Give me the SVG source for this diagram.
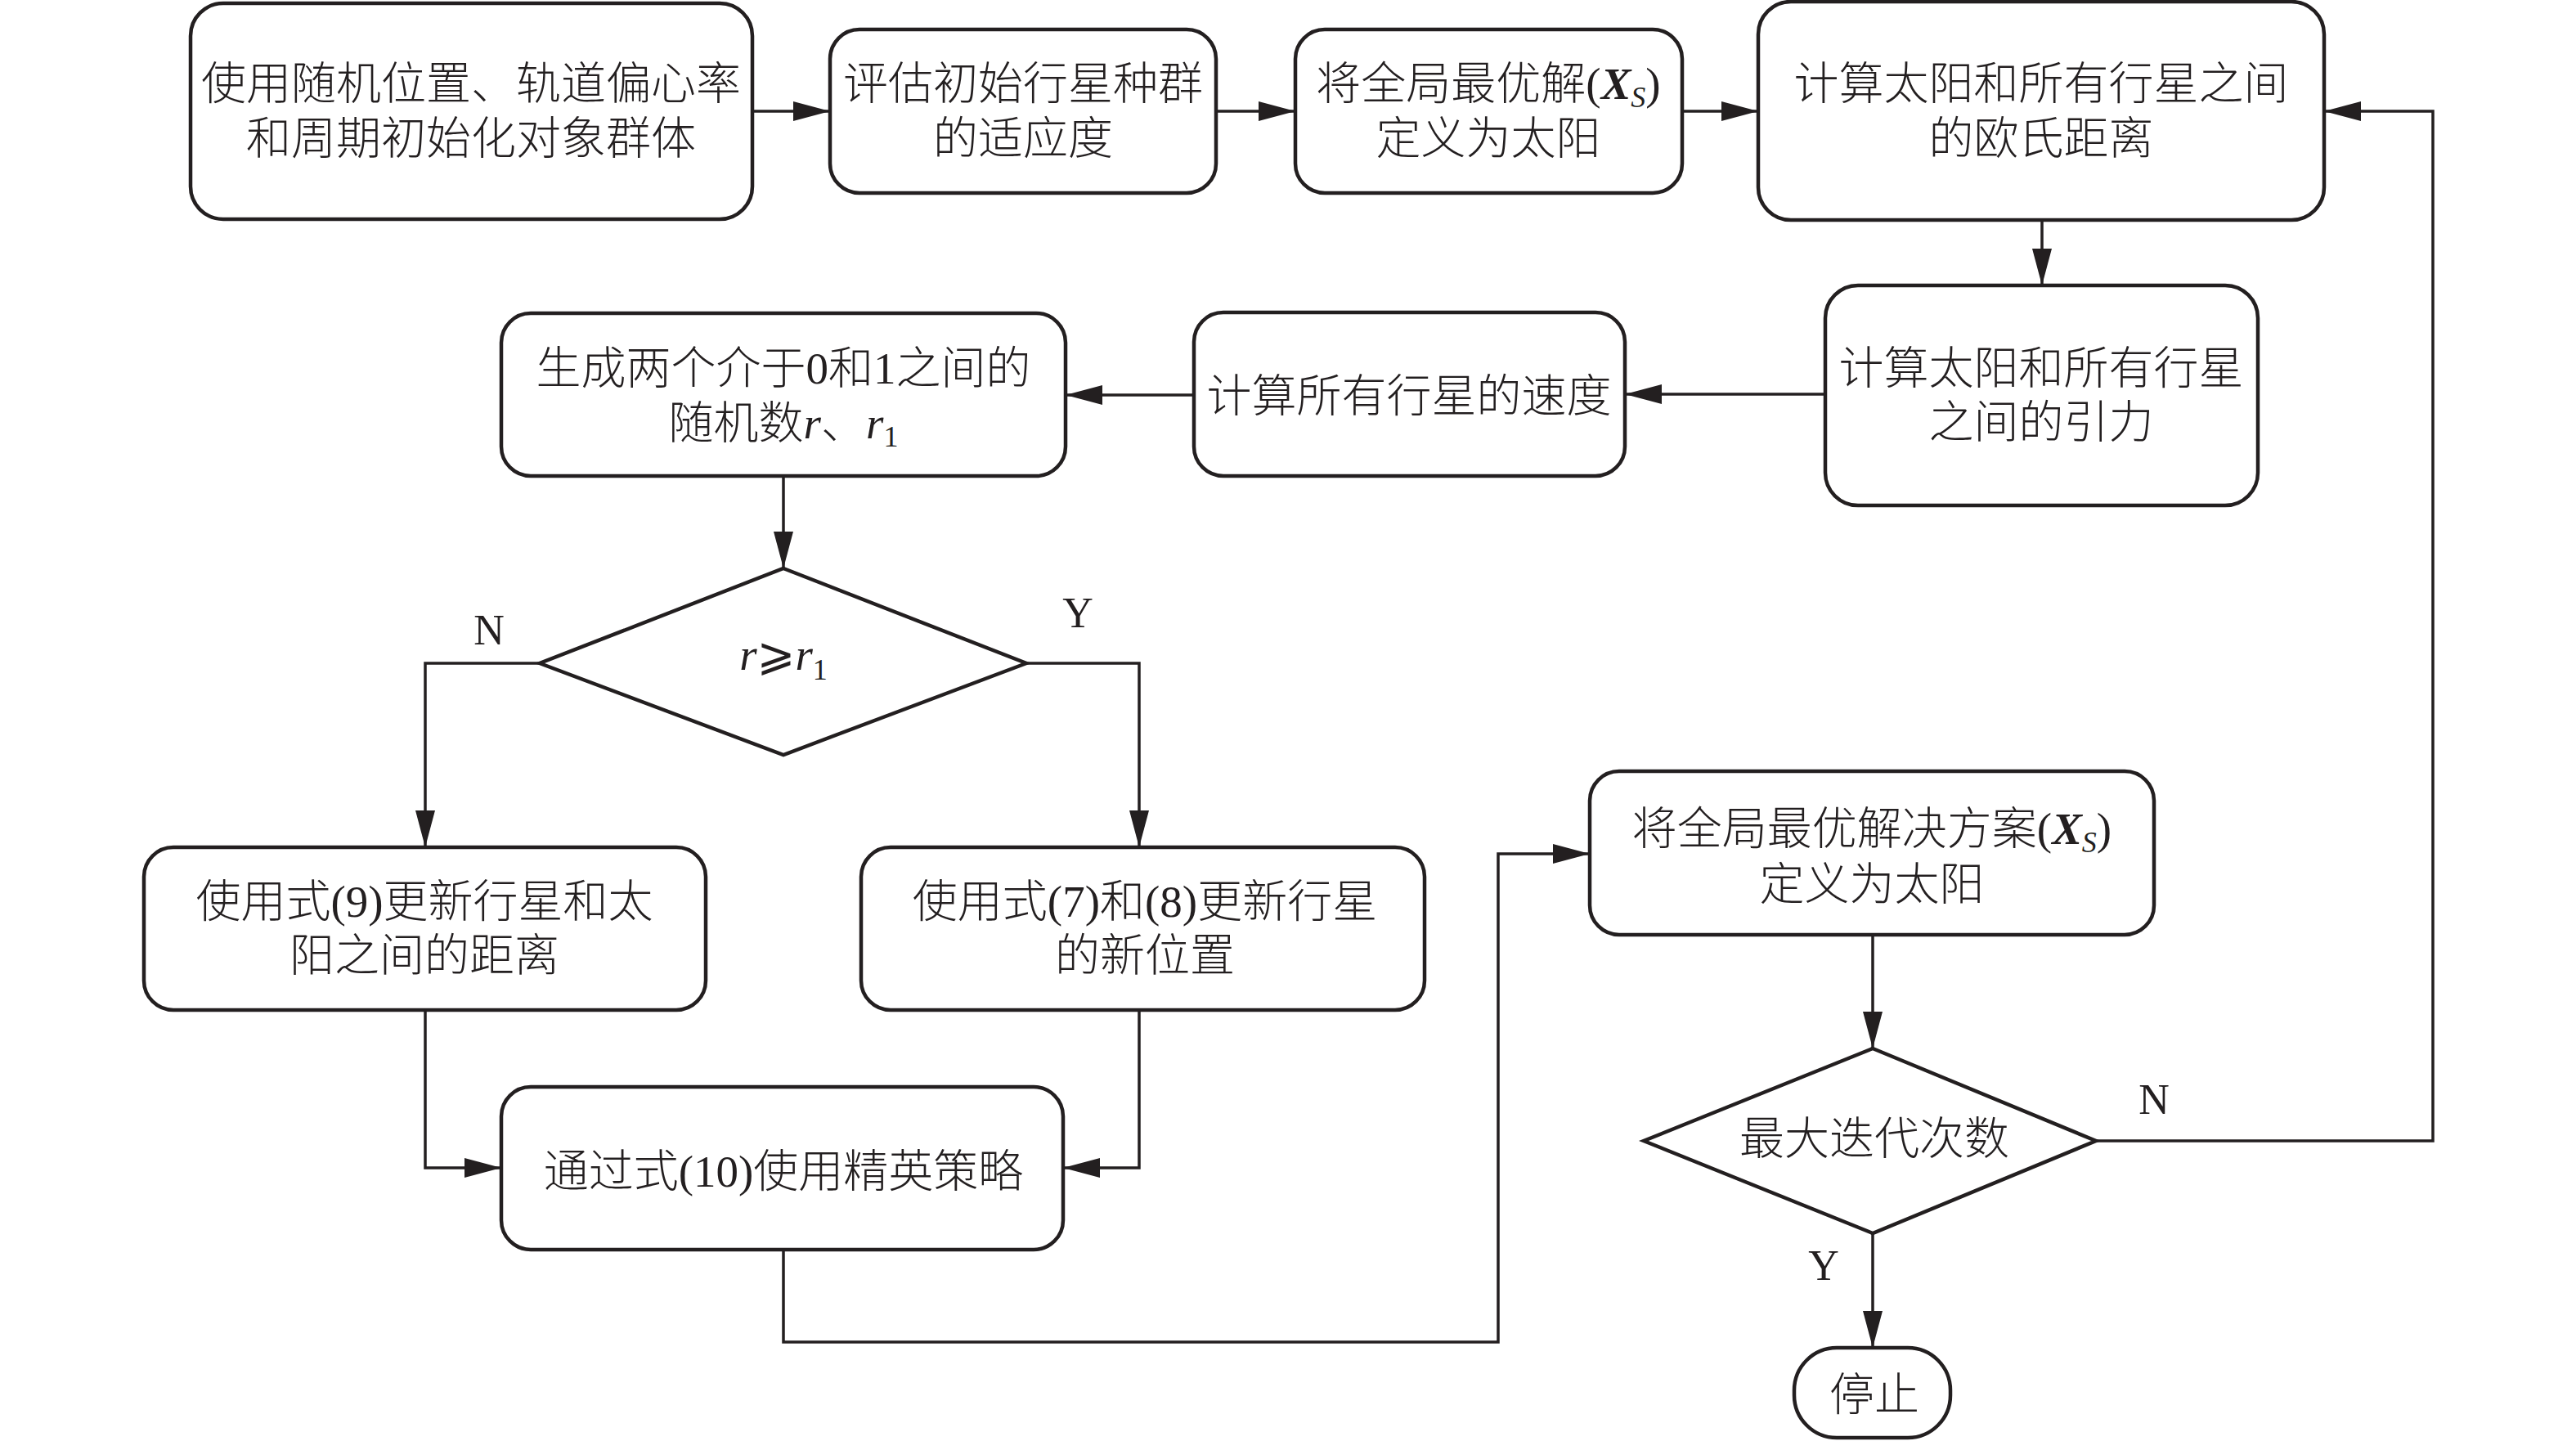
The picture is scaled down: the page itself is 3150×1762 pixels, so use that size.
<svg xmlns="http://www.w3.org/2000/svg" width="3150" height="1762" viewBox="0 0 3150 1762">
<style>
.box{fill:#fff;stroke:#231f20;stroke-width:4.5}
.dia{fill:#fff;stroke:#231f20;stroke-width:4.5;stroke-linejoin:miter}
.con{fill:none;stroke:#231f20;stroke-width:3.5}
.t{font-family:"Liberation Serif","Noto Sans CJK SC",serif;font-size:55px;font-weight:300;fill:#231f20;text-anchor:middle}
.lab{font-family:"Liberation Serif",serif;font-size:52px;fill:#231f20;text-anchor:middle}
.i{font-style:italic;font-weight:normal}
.bi{font-style:italic;font-weight:bold}
.n{font-weight:normal}
.ge{font-family:"DejaVu Serif","DejaVu Sans",serif;font-weight:normal}
</style>
<defs>
<marker id="arr" markerUnits="userSpaceOnUse" markerWidth="46" markerHeight="26" viewBox="0 0 46 26" refX="45" refY="13" orient="auto">
<path d="M0,1 L45,13 L0,25 z" fill="#231f20"/>
</marker>
</defs>
<rect width="3150" height="1762" fill="#fff"/>

<g id="connectors">
<path class="con" d="M920,136 H1015" marker-end="url(#arr)"/>
<path class="con" d="M1487,136 H1584" marker-end="url(#arr)"/>
<path class="con" d="M2057,136 H2150" marker-end="url(#arr)"/>
<path class="con" d="M2497,269 V349" marker-end="url(#arr)"/>
<path class="con" d="M2232,482 H1987" marker-end="url(#arr)"/>
<path class="con" d="M1460,483 H1303" marker-end="url(#arr)"/>
<path class="con" d="M958,582 V695" marker-end="url(#arr)"/>
<path class="con" d="M660,811 H520 V1036" marker-end="url(#arr)"/>
<path class="con" d="M1255,811 H1393 V1036" marker-end="url(#arr)"/>
<path class="con" d="M520,1235 V1428 H613" marker-end="url(#arr)"/>
<path class="con" d="M1393,1235 V1428 H1300" marker-end="url(#arr)"/>
<path class="con" d="M958,1528 V1641 H1832 V1044 H1944" marker-end="url(#arr)"/>
<path class="con" d="M2290,1143 V1282" marker-end="url(#arr)"/>
<path class="con" d="M2290,1508 V1648" marker-end="url(#arr)"/>
<path class="con" d="M2563,1395 H2975 V136 H2842" marker-end="url(#arr)"/>
<text class="lab" x="598" y="788">N</text>
<text class="lab" x="1318" y="767">Y</text>
<text class="lab" x="2634" y="1362">N</text>
<text class="lab" x="2230" y="1565">Y</text>
</g>

<g id="n1">
<rect class="box" x="233" y="4" width="687" height="264" rx="40"/>
<text class="t" x="576" y="121">使用随机位置、轨道偏心率</text>
<text class="t" x="576" y="188">和周期初始化对象群体</text>
</g>
<g id="n2">
<rect class="box" x="1015" y="36" width="472" height="200" rx="36"/>
<text class="t" x="1251" y="121">评估初始行星种群</text>
<text class="t" x="1251" y="188">的适应度</text>
</g>
<g id="n3">
<rect class="box" x="1584" y="36" width="473" height="200" rx="36"/>
<text class="t" x="1820" y="121">将全局最优解<tspan class="n">(</tspan><tspan class="bi">X</tspan><tspan class="i" font-size="36" dy="10">S</tspan><tspan class="n" dy="-10">)</tspan></text>
<text class="t" x="1820" y="188">定义为太阳</text>
</g>
<g id="n4">
<rect class="box" x="2150" y="2" width="692" height="267" rx="40"/>
<text class="t" x="2496" y="121">计算太阳和所有行星之间</text>
<text class="t" x="2496" y="188">的欧氏距离</text>
</g>
<g id="n5">
<rect class="box" x="2232" y="349" width="529" height="269" rx="40"/>
<text class="t" x="2496" y="469">计算太阳和所有行星</text>
<text class="t" x="2496" y="535">之间的引力</text>
</g>
<g id="n6">
<rect class="box" x="1460" y="382" width="527" height="200" rx="36"/>
<text class="t" x="1723" y="503">计算所有行星的速度</text>
</g>
<g id="n7">
<rect class="box" x="613" y="383" width="690" height="199" rx="36"/>
<text class="t" x="958" y="469">生成两个介于<tspan class="n">0</tspan>和<tspan class="n">1</tspan>之间的</text>
<text class="t" x="958" y="536">随机数<tspan class="i">r</tspan>、<tspan class="i">r</tspan><tspan class="n" font-size="36" dy="10">1</tspan></text>
</g>
<g id="n8">
<polygon class="dia" points="958,695 1255,811 958,923 660,811"/>
<text class="t" x="958" y="819" font-size="60"><tspan class="i">r</tspan><tspan class="ge" font-size="56">⩾</tspan><tspan class="i">r</tspan><tspan class="n" font-size="36" dy="12">1</tspan></text>
</g>
<g id="n9">
<rect class="box" x="176" y="1036" width="687" height="199" rx="36"/>
<text class="t" x="519" y="1121">使用式<tspan class="n">(9)</tspan>更新行星和太</text>
<text class="t" x="519" y="1187">阳之间的距离</text>
</g>
<g id="n10">
<rect class="box" x="1053" y="1036" width="689" height="199" rx="36"/>
<text class="t" x="1400" y="1121">使用式<tspan class="n">(7)</tspan>和<tspan class="n">(8)</tspan>更新行星</text>
<text class="t" x="1400" y="1187">的新位置</text>
</g>
<g id="n11">
<rect class="box" x="613" y="1329" width="687" height="199" rx="36"/>
<text class="t" x="958" y="1451">通过式<tspan class="n">(10)</tspan>使用精英策略</text>
</g>
<g id="n12">
<rect class="box" x="1944" y="943" width="690" height="200" rx="36"/>
<text class="t" x="2289" y="1032">将全局最优解决方案<tspan class="n">(</tspan><tspan class="bi">X</tspan><tspan class="i" font-size="36" dy="10">S</tspan><tspan class="n" dy="-10">)</tspan></text>
<text class="t" x="2289" y="1100">定义为太阳</text>
</g>
<g id="n13">
<polygon class="dia" points="2290,1282 2563,1395 2290,1508 2010,1395"/>
<text class="t" x="2292" y="1411">最大迭代次数</text>
</g>
<g id="n14">
<rect class="box" x="2194" y="1648" width="191" height="110" rx="52"/>
<text class="t" x="2292" y="1724">停止</text>
</g>
</svg>
